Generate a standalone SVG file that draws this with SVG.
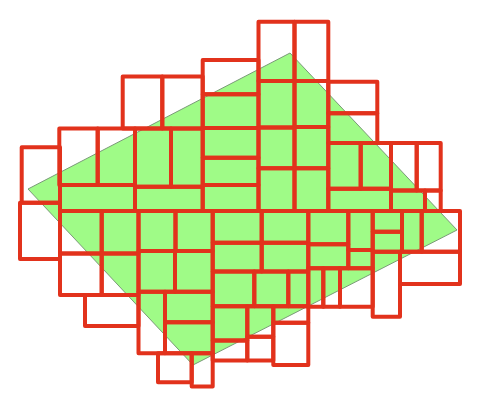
<svg xmlns="http://www.w3.org/2000/svg" width="481" height="405" viewBox="0 0 481 405">
<style>
.g{fill:#9ffb87;stroke:#7a9a78;stroke-width:1}
.r rect{fill:none;stroke:#e2321c;stroke-width:4;stroke-linejoin:round}
</style>
<rect x="0" y="0" width="481" height="405" fill="#ffffff"/>
<polygon id="region" class="g" points="28,189 290,53 457,230 193,365"/>
<g id="tiles" class="r">
<rect x="122.7" y="76.5" width="39.6" height="52"/>
<rect x="162.3" y="76.5" width="40.4" height="52"/>
<rect x="202.7" y="60" width="55.8" height="34.3"/>
<rect x="202.7" y="94.3" width="55.8" height="33.7"/>
<rect x="258.5" y="21.7" width="36" height="59.3"/>
<rect x="294.5" y="21.7" width="33.8" height="59.3"/>
<rect x="258.5" y="81" width="36" height="46.5"/>
<rect x="294.5" y="81" width="33.8" height="46"/>
<rect x="328.3" y="81.7" width="49" height="31.6"/>
<rect x="328.3" y="113.3" width="49" height="29.7"/>
<rect x="59.3" y="128.5" width="38.4" height="56.5"/>
<rect x="97.7" y="128.5" width="37.3" height="56.5"/>
<rect x="60" y="185" width="75" height="26"/>
<rect x="135" y="128.5" width="36" height="58.2"/>
<rect x="171" y="128.5" width="31.7" height="58.2"/>
<rect x="135" y="186.7" width="67.7" height="24.3"/>
<rect x="202.7" y="128" width="55.8" height="29.7"/>
<rect x="202.7" y="157.7" width="55.8" height="27.3"/>
<rect x="202.7" y="185" width="55.8" height="26"/>
<rect x="258.5" y="127.5" width="36" height="40.8"/>
<rect x="294.5" y="127" width="33.8" height="41.3"/>
<rect x="258.5" y="168.3" width="36" height="42.7"/>
<rect x="294.5" y="168.3" width="33.8" height="42.7"/>
<rect x="328.3" y="143" width="32.4" height="45.8"/>
<rect x="360.7" y="143" width="30.3" height="45.8"/>
<rect x="328.3" y="188.8" width="62.7" height="22.2"/>
<rect x="391" y="143" width="25.7" height="47.5"/>
<rect x="416.7" y="143" width="24" height="47.5"/>
<rect x="391" y="190.5" width="34" height="20.5"/>
<rect x="425" y="190.5" width="15.7" height="20.5"/>
<rect x="21.7" y="147.3" width="38.3" height="55.4"/>
<rect x="20" y="202.7" width="40" height="56.3"/>
<rect x="60" y="211" width="41.7" height="42.5"/>
<rect x="101.7" y="211" width="36.8" height="42.5"/>
<rect x="60" y="253.5" width="41.7" height="41.5"/>
<rect x="101.7" y="253.5" width="36.8" height="41.5"/>
<rect x="85" y="295" width="53.5" height="31"/>
<rect x="138.5" y="211" width="37" height="40"/>
<rect x="175.5" y="211" width="37.2" height="40"/>
<rect x="138.5" y="251" width="36.5" height="40.7"/>
<rect x="175" y="251" width="37.7" height="40.7"/>
<rect x="138.5" y="291.7" width="26.5" height="61.6"/>
<rect x="165" y="291.7" width="47.7" height="30.5"/>
<rect x="165" y="322.2" width="47.7" height="31.1"/>
<rect x="158" y="353.3" width="33.7" height="29"/>
<rect x="191.7" y="353.3" width="21" height="33.2"/>
<rect x="212.7" y="211" width="49" height="31.7"/>
<rect x="261.7" y="211" width="46.6" height="31.7"/>
<rect x="212.7" y="242.7" width="49" height="28.8"/>
<rect x="261.7" y="242.7" width="46.6" height="28.8"/>
<rect x="212.7" y="271.5" width="41.6" height="34.8"/>
<rect x="254.3" y="271.5" width="34" height="34.8"/>
<rect x="288.3" y="271.5" width="20" height="34.8"/>
<rect x="212.7" y="306.3" width="34.6" height="34.2"/>
<rect x="212.7" y="340.5" width="34.6" height="20"/>
<rect x="247.3" y="306.3" width="26" height="30.4"/>
<rect x="247.3" y="336.7" width="26" height="23.8"/>
<rect x="273.3" y="306.3" width="35" height="16.4"/>
<rect x="273.3" y="322.7" width="35" height="42.3"/>
<rect x="308.3" y="211" width="40" height="33.3"/>
<rect x="308.3" y="244.3" width="40" height="24"/>
<rect x="348.3" y="211" width="24.4" height="39"/>
<rect x="348.3" y="250" width="24.4" height="18.3"/>
<rect x="308.3" y="268.3" width="15" height="38.4"/>
<rect x="323.3" y="268.3" width="16.7" height="38.4"/>
<rect x="340" y="268.3" width="32.7" height="38.4"/>
<rect x="372.7" y="211" width="29.3" height="20.7"/>
<rect x="372.7" y="231.7" width="29.3" height="20"/>
<rect x="402" y="211" width="19.7" height="40.7"/>
<rect x="421.7" y="211" width="38.3" height="40.7"/>
<rect x="372.7" y="251.7" width="27.3" height="65"/>
<rect x="400" y="251.7" width="60" height="32.3"/>
</g>
</svg>
